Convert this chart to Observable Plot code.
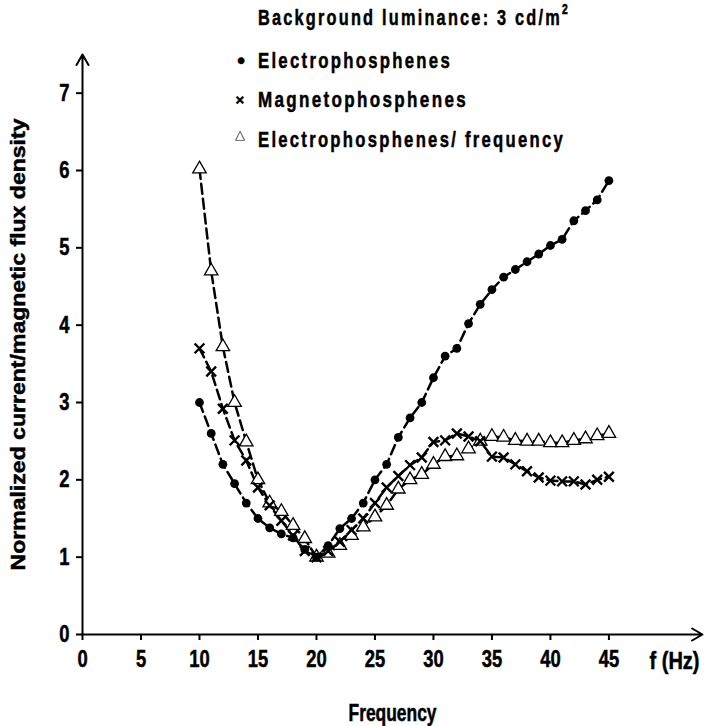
<!DOCTYPE html>
<html><head><meta charset="utf-8">
<script src="https://cdn.jsdelivr.net/npm/d3@7"></script>
<script src="https://cdn.jsdelivr.net/npm/@observablehq/plot@0.6"></script>
<style>
body{margin:0;background:#fff;}
#wrap{position:relative;width:707px;height:726px;overflow:hidden;}
#legend{position:absolute;left:0;top:0;font-family:"Liberation Sans",Arial,sans-serif;font-weight:bold;font-size:22px;color:#000;-webkit-text-stroke:0.5px #000;}
#legend .row{position:absolute;white-space:nowrap;line-height:26px;height:26px;}
#legend .t{display:inline-block;letter-spacing:3px;transform-origin:0 50%;}
#legend .s{position:absolute;width:16px;text-align:center;}
svg text{stroke:#000;stroke-width:0.5px;}
</style></head>
<body><div id="wrap"><div id="chart"></div>
<div id="legend">
 <div class="row" style="left:258px;top:5px;"><span class="t" data-w="312">Background luminance: 3 cd/m<sup style="font-size:14px;vertical-align:top;line-height:8px;">2</sup></span></div>
 <div class="row" style="left:258px;top:48px;"><span class="s" style="left:-25px;top:0;">•</span><span class="t" data-w="194">Electrophosphenes</span></div>
 <div class="row" style="left:258px;top:87px;"><span class="s" style="left:-26px;top:0;font-size:15px;">×</span><span class="t" data-w="210">Magnetophosphenes</span></div>
 <div class="row" style="left:258px;top:127px;"><span class="s" style="left:-26px;top:-5px;font-size:13px;font-weight:normal;-webkit-text-stroke:0;">△</span><span class="t" data-w="307">Electrophosphenes/ frequency</span></div>
</div></div>
<script>
const freq = [10,11,12,13,14,15,16,17,18,19,20,21,22,23,24,25,26,27,28,29,30,31,32,33,34,35,36,37,38,39,40,41,42,43,44,45];
const electro = [3.0,2.6,2.2,1.95,1.7,1.5,1.38,1.3,1.25,1.1,1.0,1.15,1.37,1.5,1.7,2.0,2.2,2.55,2.8,3.0,3.32,3.6,3.7,4.02,4.27,4.46,4.62,4.72,4.82,4.92,5.03,5.11,5.35,5.48,5.62,5.87];
const magneto = [3.7,3.4,2.92,2.51,2.25,1.9,1.67,1.47,1.28,1.08,1.0,1.08,1.2,1.35,1.5,1.7,1.9,2.05,2.19,2.29,2.49,2.51,2.6,2.56,2.5,2.3,2.29,2.2,2.11,2.03,1.99,1.98,1.98,1.94,2.0,2.04];
const electroPerFreq = [6.02,4.7,3.72,3.0,2.49,2.0,1.7,1.59,1.41,1.24,1.0,1.05,1.15,1.28,1.39,1.52,1.67,1.88,2.0,2.07,2.2,2.3,2.31,2.4,2.5,2.56,2.55,2.51,2.5,2.5,2.48,2.48,2.51,2.53,2.57,2.6];
const xTicks = [0,5,10,15,20,25,30,35,40,45];
const yTicks = [0,1,2,3,4,5,6,7];
const xDomain = [0, 53];
const yDomain = [0, 7.5];

const mk = vals => freq.map((f,i) => ({f, v: vals[i]}));
const dE = mk(electro), dM = mk(magneto), dT = mk(electroPerFreq);

const font = '"Liberation Sans",Arial,sans-serif';
const lineOpts = {x:"f", y:"v", stroke:"black", strokeWidth:2.5, strokeDasharray:"10,5"};

const chart = Plot.plot({
  width: 707, height: 726,
  marginLeft: 82, marginRight: 5, marginTop: 54, marginBottom: 92,
  style: {fontFamily: font, fontWeight: "bold", fontSize: "23px", color: "black", background: "white"},
  x: {domain: xDomain},
  y: {domain: yDomain},
  marks: [
    Plot.axisX({ticks: xTicks, tickSize: 6, tickPadding: 10, strokeWidth: 2, label: "f (Hz)", labelAnchor: "right", labelArrow: "none", labelOffset: 34}),
    Plot.axisX({ticks: [], label: "Frequency", labelAnchor: "center", labelArrow: "none", labelOffset: 86}),
    Plot.axisY({ticks: yTicks, tickSize: 6, tickPadding: 7, strokeWidth: 2, label: "Normalized current/magnetic flux density", labelAnchor: "center", labelArrow: "none", labelOffset: 72}),
    Plot.arrow([xDomain], {x1: d => d[0], x2: d => d[1], y1: yDomain[0], y2: yDomain[0], stroke: "black", strokeWidth: 2, headLength: 9}),
    Plot.arrow([yDomain], {x1: xDomain[0], x2: xDomain[0], y1: d => d[0], y2: d => d[1], stroke: "black", strokeWidth: 2, headLength: 9}),
    Plot.line(dE, lineOpts),
    Plot.line(dM, lineOpts),
    Plot.line(dT, lineOpts),
    Plot.dot(dT, {x:"f", y:"v", symbol:"triangle", r:5, fill:"white", stroke:"black", strokeWidth:1.3}),
    Plot.dot(dM, {x:"f", y:"v", symbol:"times", r:4.5, stroke:"black", strokeWidth:2.4}),
    Plot.dot(dE, {x:"f", y:"v", r:4.4, fill:"black"})
  ]
});
document.getElementById("chart").appendChild(chart);

// condense SVG text to match the narrow bold face of the original
function squeeze(el, target) {
  el.setAttribute("textLength", target);
  el.setAttribute("lengthAdjust", "spacingAndGlyphs");
}
const sel = d3.select(chart);
sel.selectAll('g[aria-label="x-axis tick label"] text, g[aria-label="y-axis tick label"] text').each(function() {
  squeeze(this, this.getComputedTextLength() * 0.8);
});
sel.selectAll('g[aria-label="y-axis label"] text').each(function() {
  this.style.fontSize = "21px";
  squeeze(this, 452);
});
sel.selectAll('g[aria-label="x-axis label"] text').each(function() {
  const t = this.textContent;
  if (t.indexOf("Frequency") >= 0) { this.style.fontSize = "23px"; squeeze(this, 88); }
  else { this.style.fontSize = "23px"; squeeze(this, 50); this.setAttribute("transform", (this.getAttribute("transform")||"") + " translate(-5,0)"); }
});
// condense legend text to the original widths
document.querySelectorAll("#legend .t").forEach(el => {
  const w = el.getBoundingClientRect().width;
  el.style.transform = `scaleX(${(+el.dataset.w) / w})`;
});
</script>
</body></html>
